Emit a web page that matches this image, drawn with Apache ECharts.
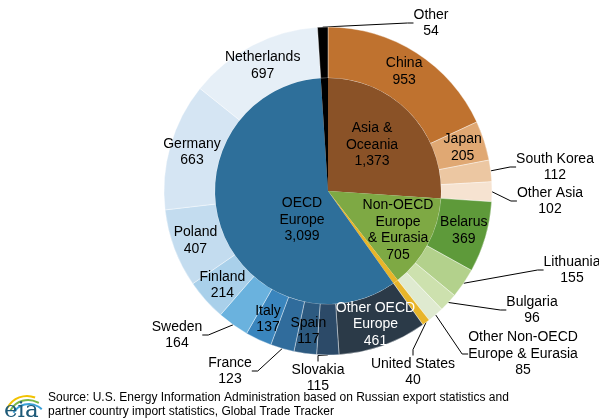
<!DOCTYPE html>
<html>
<head>
<meta charset="utf-8">
<script src="https://cdn.jsdelivr.net/npm/echarts@6/dist/echarts.min.js"></script>
<style>
html,body{margin:0;padding:0;background:#fff;}
#chart{width:599px;height:420px;}
</style>
</head>
<body>
<div id="chart"></div>
<script>
// inner ring: regions
var regionNames = ['Asia &\nOceania', 'Non-OECD\nEurope\n& Eurasia', 'United States', 'OECD\nEurope', 'Other'];
var regionValues = [1373, 705, 40, 3099, 54];

// outer ring: countries, same order clockwise from 12 o'clock
var countryNames = ['China', 'Japan', 'South Korea', 'Other Asia', 'Belarus', 'Lithuania', 'Bulgaria',
    'Other Non-OECD\nEurope & Eurasia', 'United States', 'Other OECD\nEurope', 'Slovakia', 'Spain',
    'France', 'Italy', 'Sweden', 'Finland', 'Poland', 'Germany', 'Netherlands', 'Other'];
var countryValues = [953, 205, 112, 102, 369, 155, 96, 85, 40, 461, 115, 117, 123, 137, 164, 214, 407, 663, 697, 54];

var regionColors = ['#8a5227', '#7ea944', '#e8b52a', '#2e6f9a', '#000000'];
var countryColors = ['#bf722f', '#e0a873', '#ecc7a2', '#f6e3d1', '#5e9a3a', '#b3d18c', '#cde1ae', '#dfead0',
    '#e8b52a', '#2b3a48', '#2c4a68', '#2d5a80', '#306c9c', '#3a85bd', '#6ab2de', '#a9d0ea',
    '#c3dcef', '#d5e5f3', '#e6eff7', '#000000'];

// labels drawn outside the ring, with leader lines (label centre)
var outsideLabelPos = {
    'Other': [431, 23],
    'South Korea': [555, 167],
    'Other Asia': [550, 201],
    'Lithuania': [572, 270],
    'Bulgaria': [532, 310],
    'Other Non-OECD\nEurope & Eurasia': [523, 354],
    'United States': [413, 372],
    'Slovakia': [318, 378],
    'France': [230, 371],
    'Sweden': [177, 335]
};
var innerLabelPos = {
    'Asia &\nOceania': [372, 145],
    'Non-OECD\nEurope\n& Eurasia': [398, 230],
    'OECD\nEurope': [302, 220]
};

var font = '"Liberation Sans", Arial, sans-serif';
var chart = echarts.init(document.getElementById('chart'));

function fmt(p) {
    return p.name + '\n' + p.value.toLocaleString('en-US');
}

var outerData = countryNames.map(function (n, i) {
    var outside = outsideLabelPos[n] != null;
    return {
        name: n,
        value: countryValues[i],
        itemStyle: { color: countryColors[i] },
        label: {
            position: outside ? 'outside' : 'inside',
            color: n === 'Other OECD\nEurope' ? '#ffffff' : '#000000'
        },
        labelLine: { show: outside }
    };
});

var innerData = regionNames.map(function (n, i) {
    return {
        name: n,
        value: regionValues[i],
        itemStyle: { color: regionColors[i] },
        label: { show: innerLabelPos[n] != null }
    };
});

var option = {
    animation: false,
    series: [
        {
            type: 'pie',
            center: [328, 191],
            radius: [113, 164],
            startAngle: 90,
            avoidLabelOverlap: false,
            minShowLabelAngle: 0,
            silent: true,
            itemStyle: { borderColor: 'rgba(255,255,255,0.55)', borderWidth: 0.7 },
            label: {
                formatter: fmt,
                fontFamily: font,
                fontSize: 14,
                lineHeight: 16.5,
                align: 'center'
            },
            labelLine: {
                length: 10,
                length2: 6,
                lineStyle: { color: '#000000', width: 1 }
            },
            labelLayout: function (p) {
                var pos = outsideLabelPos[countryNames[p.dataIndex]];
                if (!pos) return {};
                return { x: pos[0], y: pos[1], align: 'center', verticalAlign: 'middle' };
            },
            data: outerData
        },
        {
            type: 'pie',
            center: [328, 191],
            radius: [0, 113],
            startAngle: 90,
            avoidLabelOverlap: false,
            minShowLabelAngle: 0,
            silent: true,
            label: {
                position: 'inside',
                formatter: fmt,
                fontFamily: font,
                fontSize: 14,
                lineHeight: 16.5,
                color: '#000000',
                align: 'center'
            },
            labelLine: { show: false },
            labelLayout: function (p) {
                var pos = innerLabelPos[regionNames[p.dataIndex]];
                if (!pos) return {};
                return { x: pos[0], y: pos[1], align: 'center', verticalAlign: 'middle' };
            },
            data: innerData
        }
    ],
    graphic: [
        { type: 'arc', shape: { cx: 27, cy: 418, r: 22, startAngle: Math.PI * 1.15, endAngle: Math.PI * 1.62 },
          style: { stroke: '#f2c200', lineWidth: 2, fill: null } },
        { type: 'arc', shape: { cx: 28, cy: 420, r: 20, startAngle: Math.PI * 1.16, endAngle: Math.PI * 1.68 },
          style: { stroke: '#7ab648', lineWidth: 2, fill: null } },
        { type: 'arc', shape: { cx: 29, cy: 422, r: 18, startAngle: Math.PI * 1.17, endAngle: Math.PI * 1.75 },
          style: { stroke: '#3aa0d8', lineWidth: 2, fill: null } },
        { type: 'text', left: 4, top: 400,
          style: { text: 'eia', font: '23px "DejaVu Serif", "Liberation Serif", serif', fill: '#1d5a78' } },
        { type: 'text', left: 48, top: 391,
          style: { text: 'Source: U.S. Energy Information Administration based on Russian export statistics and\npartner country import statistics, Global Trade Tracker',
                   font: '12px "Liberation Sans", Arial, sans-serif', fill: '#000000', lineHeight: 14 } }
    ]
};
chart.setOption(option);
</script>
</body>
</html>
